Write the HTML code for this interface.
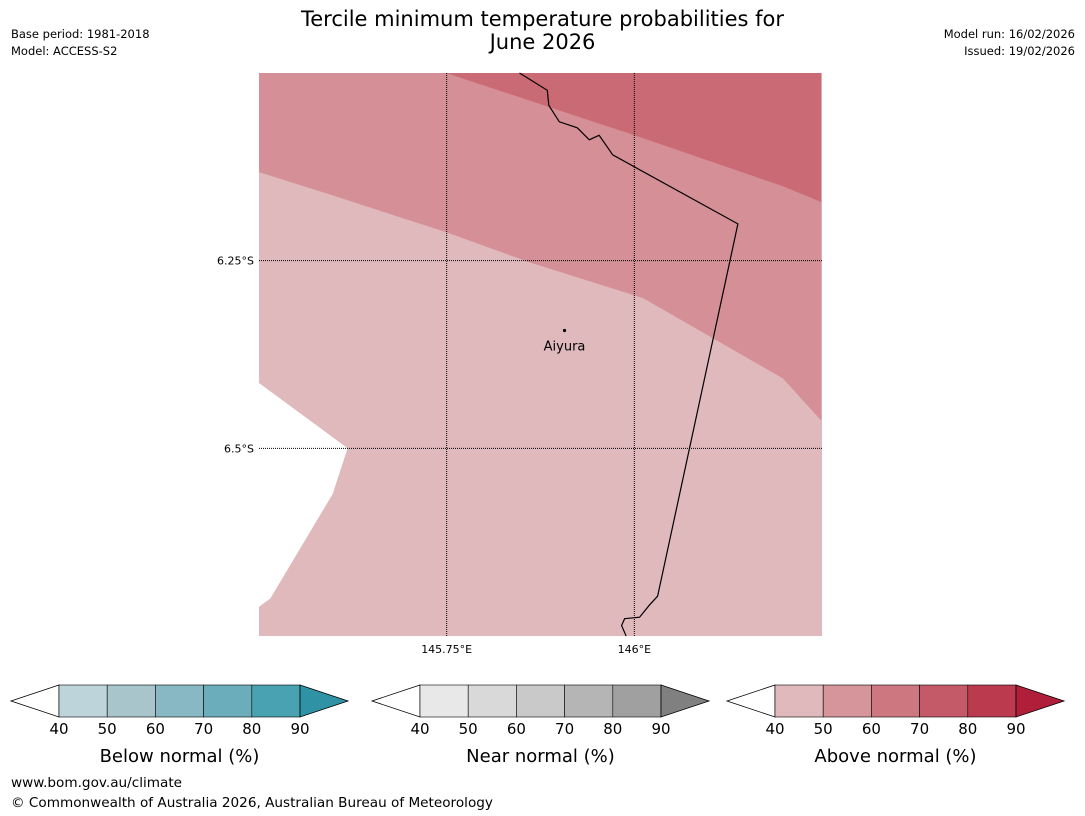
<!DOCTYPE html>
<html><head><meta charset="utf-8"><style>
body{margin:0;background:#fff;font-family:"DejaVu Sans","Liberation Sans",sans-serif}
#wrap{position:relative;width:1085px;height:816px;overflow:hidden}
.t{position:absolute;font-size:11.5px;color:#000;white-space:nowrap}
</style></head><body>
<div id="wrap">
<div class="t" style="left:0;width:1085px;top:8px;text-align:center;font-size:21px;line-height:23px">Tercile minimum temperature probabilities for<br>June 2026</div>
<div class="t" style="left:11px;top:27px">Base period: 1981-2018</div>
<div class="t" style="left:11px;top:44px">Model: ACCESS-S2</div>
<div class="t" style="right:10px;top:27px">Model run: 16/02/2026</div>
<div class="t" style="right:10px;top:44px">Issued: 19/02/2026</div>
<div class="t" style="left:11px;top:775px;font-size:13.6px">www.bom.gov.au/climate</div>
<div class="t" style="left:11px;top:795px;font-size:13.6px">© Commonwealth of Australia 2026, Australian Bureau of Meteorology</div>
<svg id="svg" width="1085" height="816" style="position:absolute;left:0;top:0"></svg>
</div>
<script>
const lonTicks=[145.75,146.0];
const lonTickLabels=["145.75°E","146°E"];
const latTicks=[-6.25,-6.5];
const latTickLabels=["6.25°S","6.5°S"];
const band50Lon=[145.5,145.749,146.0,146.198,146.249,146.249,146.198,146.012,145.860,145.749,145.598,145.5];
const band50Lat=[-6.0,-6.0,-6.083,-6.151,-6.172,-6.463,-6.407,-6.300,-6.252,-6.212,-6.163,-6.132];
const band60Lon=[145.749,146.249,146.249,146.198,146.0];
const band60Lat=[-6.0,-6.0,-6.172,-6.151,-6.083];
const noDataLon=[145.5,145.618,145.598,145.515,145.5];
const noDataLat=[-6.413,-6.5,-6.561,-6.700,-6.711];
const borderLon=[145.847,145.884,145.886,145.900,145.924,145.940,145.953,145.967,145.971,146.138,146.031,146.020,146.007,145.987,145.983,145.989];
const borderLat=[-6.0,-6.023,-6.043,-6.065,-6.073,-6.089,-6.083,-6.103,-6.109,-6.201,-6.697,-6.709,-6.725,-6.727,-6.736,-6.75];
const townLon=[145.907];const townLat=[-6.343];const townNames=["Aiyura"];
const cbTicks=[40,50,60,70,80,90];
const cbTitles=["Below normal (%)","Near normal (%)","Above normal (%)"];
const cbColors=[["#bdd4da","#a7c5ca","#88b8c3","#6cadbb","#49a2b2","#2f93a5"],["#e8e8e8","#d9d9d9","#c9c9c9","#b5b5b5","#a0a0a0","#808080"],["#e0b9bd","#d5959a","#cd7880","#c45a67","#bb3a4d","#b01e3a"]];
const cbLeft=[59,420,775];

const NS="http://www.w3.org/2000/svg",svg=document.getElementById('svg');
const X0=259,X1=822,Y0=73,Y1=636,LON0=145.5,LON1=146.25,LAT0=-6.0,LAT1=-6.75;
const xs=l=>X0+(l-LON0)/(LON1-LON0)*(X1-X0);
const ys=l=>Y0+(l-LAT0)/(LAT1-LAT0)*(Y1-Y0);
function mk(t,a,p){const e=document.createElementNS(NS,t);for(const k in a)e.setAttribute(k,a[k]);(p||svg).appendChild(e);return e;}
function pts(lo,la){return lo.map((v,i)=>xs(v).toFixed(1)+','+ys(la[i]).toFixed(1)).join(' ');}
let e;
e=mk('rect',{x:X0,y:Y0,width:X1-X0,height:Y1-Y0,fill:'#e0b9bd'});

e=mk('polygon',{points:pts(band50Lon,band50Lat),fill:'#d58f96'});

e=mk('polygon',{points:pts(band60Lon,band60Lat),fill:'#ca6a74'});

e=mk('polygon',{points:pts(noDataLon,noDataLat),fill:'#fff'});

lonTicks.forEach((v,i)=>{
 e=mk('line',{x1:xs(v),x2:xs(v),y1:Y0,y2:Y1,stroke:'#000','stroke-width':1,'stroke-dasharray':'1,1'});
 
 e=mk('text',{x:xs(v),y:Y1+17,'font-size':11,'text-anchor':'middle','font-family':'DejaVu Sans, Liberation Sans, sans-serif'});e.textContent=lonTickLabels[i];
 
});
latTicks.forEach((v,i)=>{
 e=mk('line',{x1:X0,x2:X1,y1:ys(v),y2:ys(v),stroke:'#000','stroke-width':1,'stroke-dasharray':'1,1'});
 
 e=mk('text',{x:X0-5,y:ys(v)+4,'font-size':11,'text-anchor':'end','font-family':'DejaVu Sans, Liberation Sans, sans-serif'});e.textContent=latTickLabels[i];
 
});
e=mk('polyline',{points:pts(borderLon,borderLat),fill:'none',stroke:'#000','stroke-width':1.2});

townLon.forEach((v,i)=>{
 e=mk('circle',{cx:xs(v),cy:ys(townLat[i]),r:1.6,fill:'#000'});
 
 e=mk('text',{x:xs(v),y:ys(townLat[i])+20,'font-size':13,'text-anchor':'middle','font-family':'DejaVu Sans, Liberation Sans, sans-serif'});e.textContent=townNames[i];
 
});
const SW=48.2,CT=685,CB=717;
cbColors.forEach((cols,b)=>{
 const L=cbLeft[b],R=L+SW*5;
 const g=mk('g',{});
 
 mk('polygon',{points:`${L},${CT} ${L-48},${(CT+CB)/2} ${L},${CB}`,fill:'#fff',stroke:'#000','stroke-width':0.8},g);
 for(let k=0;k<5;k++){mk('rect',{x:L+k*SW,y:CT,width:SW,height:CB-CT,fill:cols[k],stroke:'#000','stroke-width':0.6},g);}
 mk('polygon',{points:`${R},${CT} ${R+48},${(CT+CB)/2} ${R},${CB}`,fill:cols[5],stroke:'#000','stroke-width':0.8},g);
 cbTicks.forEach((t,k)=>{const tx=mk('text',{x:L+k*SW,y:CB+17,'font-size':15,'text-anchor':'middle','font-family':'DejaVu Sans, Liberation Sans, sans-serif'},g);tx.textContent=t;});
 const tt=mk('text',{x:L+SW*2.5,y:CB+45,'font-size':18,'text-anchor':'middle','font-family':'DejaVu Sans, Liberation Sans, sans-serif'},g);tt.textContent=cbTitles[b];
});
</script>
</body></html>
